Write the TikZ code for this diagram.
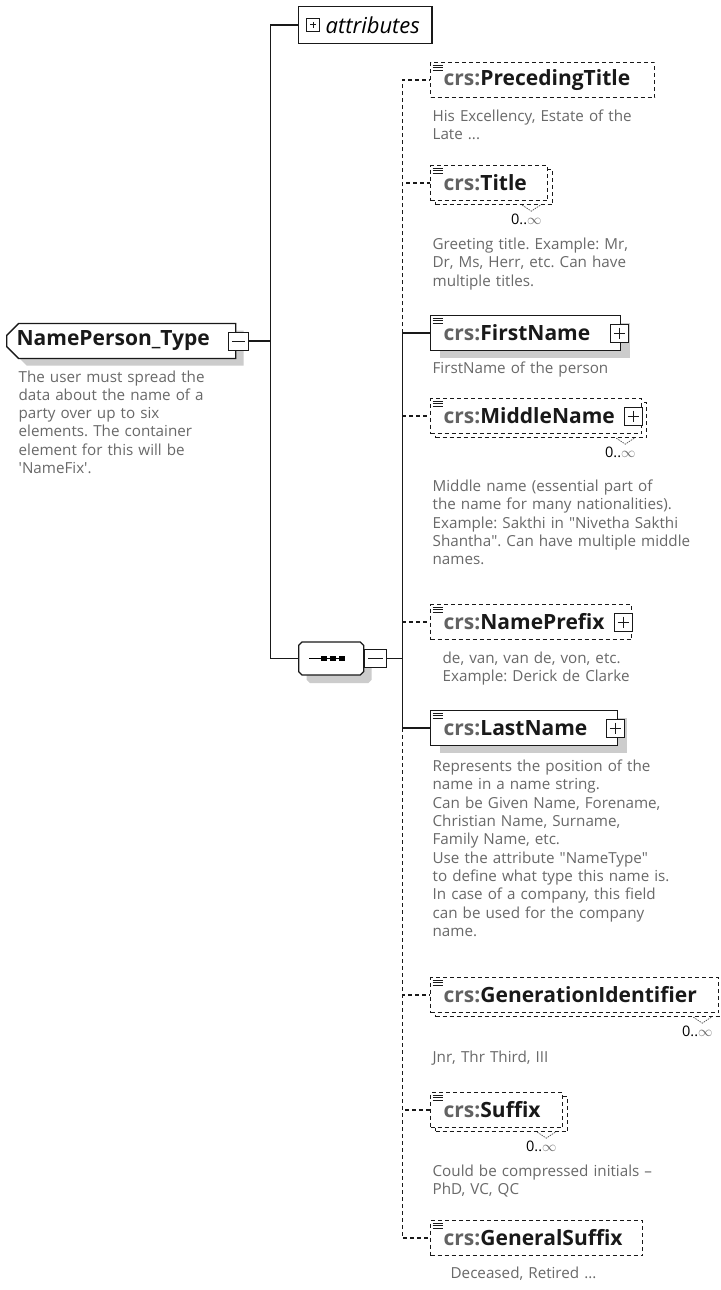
\documentclass[tikz,border=0pt]{standalone}
\usepackage{fontspec}
\setmainfont{Open Sans}
\usetikzlibrary{positioning,shapes.misc,shadows}

\definecolor{descgray}{RGB}{105,105,105}
\definecolor{nsgray}{RGB}{98,98,98}
\definecolor{shadegray}{RGB}{204,204,204}

\newcommand{\crs}[1]{\mbox{{\color{nsgray}crs:}#1}}
\newcommand{\many}{0..{\color{descgray}$\infty$}}

\begin{document}
\frenchspacing
\begin{tikzpicture}[x=1pt,y=-1pt,line width=1.3pt,
    conn/.style={draw=black!90},
    optconn/.style={draw=black!90,dash pattern=on 4pt off 3pt},
    box/.style={draw=black!90,fill=white,inner ysep=0pt,minimum height=35pt,anchor=west},
    elem/.style={box,inner xsep=13pt,text width=#1,align=left,
      font=\fontsize{21}{21}\selectfont\bfseries,text=black!90,
      path picture={\foreach \d in {2.5,5,7.5}
        \draw[solid,line width=0.8pt] ([xshift=2pt,yshift=-\d pt]path picture bounding box.north west) -- ++(10,0);}},
    opt/.style={elem=#1,dash pattern=on 4pt off 3pt},
    req/.style={elem=#1,general shadow={fill=shadegray,draw=none,shadow xshift=9pt,shadow yshift=-7pt}},
    rep/.style={opt=#1,general shadow={draw=black!90,fill=white,dash pattern=on 4pt off 3pt,
      shadow xshift=5pt,shadow yshift=-4pt}},
    plus/.style={draw=black!90,solid,fill=white,line width=1pt,minimum size=18pt,inner sep=0pt,
      path picture={\draw[line width=1pt]
        ([yshift=-3.5pt]path picture bounding box.north) -- ([yshift=3.5pt]path picture bounding box.south)
        ([xshift=3.5pt]path picture bounding box.west) -- ([xshift=-3.5pt]path picture bounding box.east);}},
    minus/.style={draw=black!90,solid,fill=white,line width=1pt,minimum width=20pt,minimum height=18pt,inner sep=0pt,
      path picture={\draw[line width=1pt]
        ([xshift=3.5pt]path picture bounding box.west) -- ([xshift=-3.5pt]path picture bounding box.east);}},
    desc/.style={anchor=base west,inner sep=0pt,text width=290pt,align=left,text=descgray,
      font=\fontsize{15.2}{18.3}\selectfont},
    many/.style={inner sep=0pt,font=\fontsize{14.5}{14.5}\selectfont},
    chev/.style={draw=black!70,line width=0.7pt,dash pattern=on 1.5pt off 1pt}]

  \useasboundingbox[fill=white] (0,0) rectangle (720,1290);

  % the complex type and its two children
  \node[box,chamfered rectangle,chamfered rectangle corners={north west,south west},
        chamfered rectangle xsep=6pt,chamfered rectangle ysep=6pt,minimum width=229pt,
        inner xsep=0pt,font=\fontsize{21}{21}\selectfont\bfseries,text=black!90,
        general shadow={fill=shadegray,draw=none,shadow xshift=8pt,shadow yshift=-7pt}]
        (NT) at (6,341) {\makebox[209pt][l]{NamePerson\_Type}};
  \node[minus] (NTm) at ([xshift=2pt]NT.east) {};
  \node[desc] (NTd) at (18,382) {The user must spread the\\data about the name of a\\party over up to six\\
    elements. The container\\element for this will be\\\textquotesingle NameFix\textquotesingle.};

  \node[box,minimum height=37pt,inner xsep=12pt,font=\fontsize{22}{22}\selectfont\itshape]
        (AT) at (298,25) {\hspace{15pt}attributes};
  \node[plus,minimum size=13pt] (ATp) at ([xshift=15pt]AT.west) {};

  \node[box,chamfered rectangle,chamfered rectangle xsep=7pt,chamfered rectangle ysep=7pt,
        minimum width=65pt,minimum height=33pt,
        general shadow={fill=shadegray,draw=none,shadow xshift=8pt,shadow yshift=-8pt}]
        (SQ) at (298,658.5) {};
  \draw ([xshift=-22pt]SQ.center) -- ([xshift=14pt]SQ.center);
  \foreach \i in {-10,-1,8}
    \fill ([xshift=\i pt,yshift=2.5pt]SQ.center) rectangle ++(6,5);
  \node[minus,minimum width=22pt,right=0pt of SQ] (SQm) {};

  \coordinate[right=22pt of NTm] (J1);
  \coordinate[right=15pt of SQm] (B);

  % the sequence members
  \node[opt=198pt] (PT) at (430,80) {\crs{PrecedingTitle}};
  \node[rep=91pt]  (TI) at (430,183) {\crs{Title}};
  \node[req=164pt] (FN) at (430,333) {\crs{FirstName}};
  \node[rep=185pt] (MN) at (430,416) {\crs{MiddleName}};
  \node[opt=175pt] (NP) at (430,622) {\crs{NamePrefix}};
  \node[req=161pt] (LN) at (430,728) {\crs{LastName}};
  \node[rep=262pt] (GI) at (430,995) {\crs{GenerationIdentifier}};
  \node[rep=106pt] (SU) at (430,1110) {\crs{Suffix}};
  \node[opt=186pt] (GS) at (430,1238) {\crs{GeneralSuffix}};

  \node[plus] (FNp) at ([xshift=-2pt]FN.east) {};
  \node[plus] (MNp) at ([xshift=-9pt]MN.east) {};
  \node[plus] (NPp) at ([xshift=-9pt]NP.east) {};
  \node[plus] (LNp) at ([xshift=-3pt]LN.east) {};

  \foreach \n in {TI,MN,GI,SU}{
    \draw[chev] ([xshift=-26pt,yshift=-4pt]\n.south east) -- ++(9,6) -- ++(9,-6);
    \node[many] (\n-occ) at ([xshift=-22pt,yshift=-18pt]\n.south east) {\many};
  }

  \node[below=23.5pt of PT.south west,desc,xshift=2pt] (PTd) {His Excellency, Estate of the\\Late ...};
  \node[below=48.5pt of TI.south west,desc,xshift=2pt] (TId) {Greeting title. Example: Mr,\\
    Dr, Ms, Herr, etc. Can have\\multiple titles.};
  \node[below=22.5pt of FN.south west,desc,xshift=2pt] (FNd) {FirstName of the person};
  \node[below=57.5pt of MN.south west,desc,xshift=2pt] (MNd) {Middle name (essential part of\\
    the name for many nationalities).\\Example: Sakthi in \textquotedbl Nivetha Sakthi\\
    Shantha\textquotedbl. Can have multiple middle\\names.};
  \node[below=23.5pt of NP.south west,desc,xshift=12pt] (NPd) {de, van, van de, von, etc.\\
    Example: Derick de Clarke};
  \node[below=25.5pt of LN.south west,desc,xshift=2pt] (LNd) {Represents the position of the\\
    name in a name string.\\Can be Given Name, Forename,\\Christian Name, Surname,\\
    Family Name, etc.\\Use the attribute \textquotedbl NameType\textquotedbl\\to define what type this name is.\\
    In case of a company, this field\\can be used for the company\\name.};
  \node[below=49.5pt of GI.south west,desc,xshift=2pt] (GId) {Jnr, Thr Third, III};
  \node[below=48.5pt of SU.south west,desc,xshift=2pt] (SUd) {Could be compressed initials --\\
    PhD, VC, QC};
  \node[below=22.5pt of GS.south west,desc,xshift=20pt] (GSd) {Deceased, Retired ...};

  % connectors
  \draw[conn] (NTm) -- (J1);
  \draw[conn] (AT) -| (J1) |- (SQ);
  \draw[conn] (SQm) -- (B);
  \draw[conn] (B) |- (FN);
  \draw[conn] (B) |- (LN);
  \coordinate (Btop) at (B |- FN.west);
  \coordinate (Bbot) at (B |- LN.west);
  \draw[optconn] (Btop) |- (PT);
  \draw[optconn] (Btop) |- (TI);
  \draw[optconn] (B |- MN.west) -- (MN);
  \draw[optconn] (B |- NP.west) -- (NP);
  \draw[optconn] (Bbot) |- (GI);
  \draw[optconn] (Bbot) |- (SU);
  \draw[optconn] (Bbot) |- (GS);
\end{tikzpicture}
\end{document}
